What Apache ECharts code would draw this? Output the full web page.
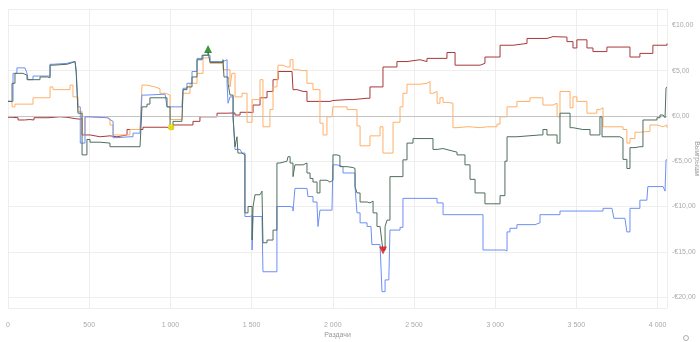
<!DOCTYPE html>
<html><head><meta charset="utf-8">
<script src="https://cdn.jsdelivr.net/npm/echarts@6/dist/echarts.min.js"></script>
<style>html,body{margin:0;padding:0;background:#fff}#c{width:700px;height:342px}</style>
</head><body><div id="c"></div>
<script>
var xTicks = [0, 500, 1000, 1500, 2000, 2500, 3000, 3500, 4000];
var yTicks = [-20, -15, -10, -5, 0, 5, 10];
var xName = 'Раздачи';
var yName = 'Выигрыши';

var redData = [[0,-0.15],[25,-0.2],[62,-0.45],[100,-0.4],[135,-0.45],[160,-0.2],[246,-0.1],[320,-0.15],[363,-0.3],[413,-0.36],[443,-0.3],[456,-2.1],[505,-2.3],[567,-2.2],[628,-2.3],[671,-2.1],[733,-1.5],[813,-1.5],[831,-1.25],[936,-1.25],[979,-1.4],[998,-1.5],[1016,-1.0],[1078,-1.0],[1139,-0.6],[1182,-0.1],[1287,0.3],[1349,0.33],[1398,0.1],[1429,0.4],[1490,0.36],[1509,1.2],[1552,2.0],[1595,2.7],[1632,4.0],[1663,4.9],[1718,4.9],[1749,4.9],[1755,2.9],[1780,2.7],[1817,2.7],[1841,1.6],[1921,1.6],[1983,1.7],[2001,1.8],[2088,1.8],[2124,1.95],[2211,1.95],[2229,3.2],[2291,3.2],[2309,5.4],[2371,5.4],[2395,6.0],[2457,6.2],[2537,6.0],[2580,6.35],[2660,6.35],[2703,7.0],[2740,7.0],[2753,5.6],[2845,5.6],[2907,5.8],[2937,6.5],[3011,6.5],[3030,7.8],[3110,8.0],[3196,8.55],[3276,8.55],[3319,8.75],[3356,8.7],[3442,8.2],[3479,7.5],[3503,8.4],[3565,7.5],[3602,7.1],[3688,7.6],[3768,7.6],[3830,6.5],[3891,6.9],[3971,7.8],[4058,8.0]];

var orangeData = [[0,1.7],[12,1.5],[25,1.0],[43,1.3],[74,1.3],[154,2.0],[246,2.0],[259,3.2],[277,2.9],[363,2.9],[382,3.4],[400,2.1],[431,0.5],[456,-2.0],[474,-0.1],[505,-0.2],[567,-0.1],[610,-0.3],[628,-1.0],[647,-2.1],[733,-2.1],[751,-1.5],[813,-1.5],[825,3.4],[856,3.2],[905,3.0],[936,2.5],[967,2.3],[998,-0.4],[1071,-0.4],[1078,2.5],[1121,3.6],[1164,4.7],[1201,6.4],[1244,5.8],[1287,5.8],[1324,5.1],[1367,3.2],[1379,4.7],[1398,2.1],[1416,2.1],[1441,2.5],[1472,-0.7],[1490,-0.7],[1503,1.8],[1552,4.0],[1570,-1.2],[1595,-1.2],[1613,0.7],[1632,3.2],[1656,3.2],[1663,5.6],[1693,5.4],[1718,5.4],[1737,6.2],[1755,5.1],[1780,5.0],[1817,5.0],[1841,3.6],[1860,3.6],[1878,2.9],[1903,2.9],[1921,-0.8],[1940,-2.1],[1964,-0.1],[1995,-0.1],[2001,1.0],[2063,1.0],[2088,0.7],[2124,0.7],[2149,-1.1],[2168,-3.3],[2211,-3.3],[2229,-2.2],[2272,-2.2],[2291,-1.2],[2309,-4.1],[2352,-4.1],[2371,-0.7],[2395,-0.7],[2414,1.0],[2432,2.5],[2457,3.5],[2537,3.6],[2580,3.8],[2599,2.5],[2617,2.7],[2642,1.4],[2660,2.0],[2679,1.5],[2703,1.4],[2740,-1.3],[2765,-1.2],[2826,-1.2],[2845,-1.3],[2907,-1.2],[2950,-1.2],[3011,-0.9],[3030,-0.1],[3073,1.0],[3110,1.0],[3134,1.6],[3196,1.6],[3214,2.0],[3276,2.0],[3294,1.2],[3356,1.4],[3381,-0.1],[3399,2.7],[3442,2.7],[3461,0.9],[3479,2.1],[3503,1.6],[3540,1.6],[3565,0.3],[3602,0.3],[3626,0.7],[3645,0.9],[3664,-1.2],[3768,-1.2],[3787,-1.5],[3811,-3.0],[3830,-2.5],[3861,-1.8],[3891,-1.7],[3953,-1.0],[3996,-1.2],[4034,-1.0],[4058,-1.3]];

var greenData = [[0,1.6],[12,1.6],[25,3.6],[43,4.7],[62,4.7],[92,4.5],[117,4.0],[154,4.0],[197,4.3],[246,4.2],[259,5.6],[277,5.7],[363,5.8],[382,6.0],[413,6.0],[420,4.7],[431,0.3],[456,-4.3],[486,-2.6],[505,-2.9],[567,-3.0],[628,-3.4],[690,-3.4],[813,-3.4],[825,1.0],[856,1.3],[874,2.0],[954,2.0],[979,1.0],[998,-1.3],[1010,-1.2],[1016,-0.6],[1071,-0.6],[1078,2.9],[1102,3.2],[1133,4.3],[1164,6.2],[1195,6.7],[1232,7.05],[1244,5.9],[1305,5.9],[1324,6.2],[1330,4.3],[1355,3.6],[1367,2.3],[1386,-0.1],[1398,-3.4],[1410,-2.3],[1416,-4.1],[1441,-4.3],[1459,-10.7],[1478,-10.0],[1490,-10.0],[1503,-13.7],[1509,-10.0],[1521,-8.7],[1552,-8.7],[1564,-8.3],[1570,-14.0],[1595,-13.7],[1613,-13.7],[1632,-12.6],[1656,-5.2],[1675,-5.0],[1718,-5.0],[1724,-4.5],[1737,-5.2],[1755,-6.7],[1767,-5.4],[1817,-5.2],[1841,-6.3],[1860,-6.9],[1878,-7.3],[1903,-8.5],[1921,-7.1],[1964,-7.3],[1983,-7.1],[2001,-4.3],[2026,-4.4],[2044,-5.6],[2088,-5.7],[2124,-5.8],[2137,-7.8],[2149,-8.5],[2168,-9.5],[2211,-9.6],[2229,-9.4],[2248,-10.7],[2272,-12.2],[2291,-12.2],[2303,-14.0],[2309,-14.8],[2322,-12.2],[2334,-11.5],[2352,-6.7],[2414,-6.7],[2432,-4.85],[2457,-3.0],[2494,-2.5],[2580,-2.5],[2617,-3.7],[2642,-3.6],[2679,-3.8],[2722,-4.0],[2765,-4.3],[2814,-5.4],[2845,-7.0],[2876,-8.5],[2937,-9.7],[2968,-9.7],[3030,-8.8],[3060,-5.0],[3073,-2.3],[3134,-2.1],[3276,-2.1],[3294,-1.5],[3319,-2.1],[3356,-2.1],[3381,-3.0],[3399,0.3],[3442,0.3],[3461,-1.3],[3479,-1.5],[3540,-1.5],[3584,-2.1],[3626,-2.1],[3645,-0.1],[3658,-2.3],[3750,-2.3],[3768,-2.5],[3787,-4.8],[3811,-5.8],[3830,-3.5],[3861,-3.4],[3891,-3.4],[3910,-0.45],[3996,-0.2],[4015,0.1],[4034,0.0],[4046,-0.2],[4052,3.1],[4058,3.2]];

var blueData = [[0,1.6],[12,1.6],[31,4.7],[55,5.3],[105,5.3],[117,4.7],[123,4.0],[154,4.4],[246,4.4],[259,5.7],[277,5.8],[363,5.9],[382,6.0],[413,6.0],[420,5.1],[431,1.0],[445,-3.0],[474,-0.1],[505,-0.2],[610,-0.4],[628,-0.6],[647,-2.4],[671,-2.3],[751,-2.3],[770,-1.9],[813,-1.9],[825,2.3],[856,2.4],[967,2.4],[979,1.0],[1071,1.0],[1078,3.05],[1102,3.6],[1133,4.9],[1164,6.35],[1201,6.7],[1244,6.0],[1305,6.0],[1324,6.2],[1349,3.6],[1355,1.4],[1367,2.1],[1379,2.1],[1386,-0.3],[1398,-3.7],[1429,-3.7],[1441,-4.1],[1459,-11.1],[1490,-11.0],[1503,-14.8],[1509,-11.1],[1564,-11.1],[1570,-17.2],[1632,-17.2],[1656,-10.0],[1718,-10.0],[1737,-10.1],[1755,-10.5],[1767,-8.0],[1841,-8.15],[1847,-8.9],[1878,-9.5],[1903,-10.0],[1909,-12.2],[1921,-10.4],[1995,-10.4],[2001,-5.4],[2026,-5.6],[2063,-6.3],[2124,-6.3],[2137,-7.8],[2149,-10.7],[2168,-11.8],[2211,-12.2],[2235,-12.4],[2241,-14.2],[2291,-14.2],[2303,-19.4],[2309,-19.4],[2322,-18.1],[2345,-18.1],[2352,-12.6],[2414,-12.3],[2432,-9.1],[2537,-9.1],[2617,-9.1],[2642,-9.6],[2679,-10.9],[2907,-10.9],[2925,-14.8],[3060,-14.9],[3073,-12.8],[3091,-12.4],[3134,-12.0],[3245,-11.8],[3276,-10.9],[3368,-10.9],[3399,-10.5],[3645,-10.5],[3664,-10.2],[3719,-10.2],[3731,-11.3],[3799,-11.3],[3811,-12.8],[3830,-10.2],[3891,-9.3],[3934,-9.3],[3940,-7.8],[4034,-7.6],[4046,-8.3],[4052,-4.85],[4058,-4.8]];

var maxPoint = [[1232, 7.05]];
var markedPoint = [[1004, -1.25]];
var minPoint = [[2309, -14.85]];

var FONT = 'Liberation Sans Narrow, Liberation Sans, sans-serif';
function money(v){ return (v < 0 ? '-' : '') + '€' + Math.abs(v).toFixed(2).replace('.', ','); }
function hands(v){ return String(v).replace(/\B(?=(\d{3})+(?!\d))/g, ' '); }

var chart = echarts.init(document.getElementById('c'), null, {renderer:'canvas'});
function line(data, color, z){
  return {type:'line', data:data, step:'end', showSymbol:false, symbol:'none', z:z,
    lineStyle:{color:color, width:1}, itemStyle:{color:color}, silent:true};
}
var s0 = line(redData, '#a8383a', 3);
s0.markLine = {silent:true, symbol:'none', label:{show:false}, lineStyle:{color:'#c4c4c4', type:'solid', width:1}, data:[{yAxis:0}], animation:false};
chart.setOption({
  animation:false,
  grid:{left:8, right:33, top:9, bottom:34, outerBoundsMode:'none', containLabel:false},
  xAxis:{type:'value', min:xTicks[0], max:'dataMax', interval:500,
    name:xName, nameLocation:'middle', nameGap:24, nameMoveOverlap:false, nameTextStyle:{color:'#999', fontSize:7, fontFamily:FONT},
    axisLine:{show:false}, axisTick:{show:false},
    axisLabel:{color:'#aaa', fontSize:7, fontFamily:FONT, margin:14, formatter:hands, showMaxLabel:false},
    splitLine:{show:true, lineStyle:{color:'#eeeeee', width:1}}},
  yAxis:{type:'value', position:'right', min:-21.2, max:11.8,
    name:yName, nameLocation:'middle', nameGap:26, nameRotate:-90, nameMoveOverlap:false, nameTextStyle:{color:'#999', fontSize:7, fontFamily:FONT},
    axisLine:{show:false}, axisTick:{show:false},
    axisLabel:{color:'#aaa', fontSize:7, fontFamily:FONT, margin:5, formatter:money, showMinLabel:false, showMaxLabel:false},
    splitLine:{show:true, lineStyle:{color:'#eeeeee', width:1}}},
  series:[
    s0,
    line(orangeData, '#fdb068', 4),
    line(blueData, '#6d8ef4', 5),
    line(greenData, '#4f6e5e', 6),
    {type:'scatter', data:maxPoint, symbol:'triangle', symbolSize:8, symbolOffset:[0,-3], itemStyle:{color:'#0e7d0e'}, z:10, silent:true},
    {type:'scatter', data:markedPoint, symbol:'circle', symbolSize:6, itemStyle:{color:'#f4ea00', borderColor:'#d8cc00', borderWidth:0.5}, z:10, silent:true},
    {type:'scatter', data:minPoint, symbol:'triangle', symbolRotate:180, symbolSize:8, itemStyle:{color:'#e01010'}, z:10, silent:true}
  ],
  graphic:[{type:'circle', shape:{cx:686, cy:338, r:2.5}, style:{fill:'none', stroke:'#999', lineWidth:0.8}}]
});
</script></body></html>
